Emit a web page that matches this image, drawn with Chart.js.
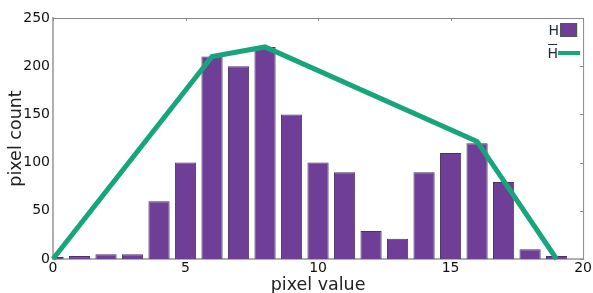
<!DOCTYPE html>
<html>
<head>
<meta charset="UTF-8">
<title>pixel histogram</title>
<script src="https://cdn.jsdelivr.net/npm/chart.js"></script>
<style>
    html, body { margin: 0; padding: 0; background: #ffffff; }
    #box { width: 593px; height: 293px; }
</style>
</head>
<body>
<div id="box"><canvas id="grafico"></canvas></div>
<script>
    // dados
    const pixelValues = [0, 1, 2, 3, 4, 5, 6, 7, 8, 9, 10, 11, 12, 13, 14, 15, 16, 17, 18, 19];
    const pixelCounts = [2, 3, 5, 5, 60, 100, 210, 200, 220, 150, 100, 90, 29, 21, 90, 110, 120, 80, 10, 3];
    const meanX = [0, 6, 8, 16, 19];
    const meanY = [0, 210, 220, 122, 0];
    const xTicks = [0, 5, 10, 15, 20];
    const yTicks = [0, 50, 100, 150, 200, 250];

    const roxo = '#6f3f98';
    const verde = '#17a57c';

    // moldura de cima e da direita, com marcas para dentro
    const moldura = {
        id: 'moldura',
        afterDatasetsDraw(chart) {
            const { ctx, chartArea: a, scales } = chart;
            ctx.save();
            ctx.strokeStyle = '#888888';
            ctx.lineWidth = 1;
            ctx.beginPath();
            ctx.moveTo(a.left, a.top + 0.5);
            ctx.lineTo(a.right + 0.5, a.top + 0.5);
            ctx.lineTo(a.right + 0.5, a.bottom);
            xTicks.forEach(v => {
                const px = Math.round(scales.x.getPixelForValue(v)) + 0.5;
                ctx.moveTo(px, a.top);
                ctx.lineTo(px, a.top + 3);
            });
            yTicks.forEach(v => {
                const py = Math.round(scales.y.getPixelForValue(v)) + 0.5;
                ctx.moveTo(a.right, py);
                ctx.lineTo(a.right - 3, py);
            });
            ctx.stroke();

            // legenda
            ctx.font = '14px "DejaVu Sans"';
            ctx.textAlign = 'right';
            ctx.textBaseline = 'middle';
            ctx.fillStyle = '#1d2a3a';
            ctx.fillText('H', a.right - 24, 31);
            ctx.fillText('H', a.right - 25, 54);
            // barra sobre o segundo H
            ctx.fillRect(a.right - 35, 44, 9, 1);
            ctx.fillStyle = roxo;
            ctx.fillRect(a.right - 23, 23, 17, 14);
            ctx.strokeStyle = '#555555';
            ctx.strokeRect(a.right - 22.5, 23.5, 16, 13);
            ctx.fillStyle = verde;
            ctx.fillRect(a.right - 25, 51, 22, 4);
            ctx.restore();
        }
    };

    const config = {
        data: {
            datasets: [
                {
                    type: 'line',
                    label: 'H\u0304',
                    data: meanX.map((x, i) => ({ x: x, y: meanY[i] })),
                    borderColor: verde,
                    borderWidth: 5,
                    pointRadius: 0,
                    fill: false,
                    tension: 0,
                    clip: false,
                    order: 0
                },
                {
                    type: 'bar',
                    label: 'H',
                    data: pixelValues.map((x, i) => ({ x: x, y: pixelCounts[i] })),
                    backgroundColor: roxo,
                    borderColor: '#4a3360',
                    borderWidth: 1,
                    categoryPercentage: 1,
                    barPercentage: 0.8,
                    order: 1
                }
            ]
        },
        options: {
            responsive: false,
            animation: false,
            maintainAspectRatio: false,
            layout: { padding: { top: 18, right: 9, left: 0, bottom: 0 } },
            plugins: {
                legend: { display: false },
                tooltip: { enabled: false }
            },
            scales: {
                x: {
                    type: 'linear',
                    min: 0,
                    max: 20,
                    offset: false,
                    grid: { display: false, drawTicks: false },
                    border: { color: '#b0b0b0', width: 2 },
                    afterBuildTicks(s) { s.ticks = xTicks.map(v => ({ value: v })); },
                    afterFit(s) { s.height = 34; },
                    ticks: {
                        color: '#111111',
                        font: { family: 'DejaVu Sans', size: 14 },
                        padding: 1,
                        maxRotation: 0
                    },
                    title: {
                        display: true,
                        text: 'pixel value',
                        color: '#222222',
                        font: { family: 'DejaVu Sans', size: 17.5 },
                        padding: { top: 0, bottom: -3 }
                    }
                },
                y: {
                    min: 0,
                    max: 250,
                    grid: { display: false, drawTicks: false },
                    border: { color: '#b0b0b0', width: 2 },
                    afterBuildTicks(s) { s.ticks = yTicks.map(v => ({ value: v })); },
                    afterFit(s) { s.width = 53; },
                    ticks: {
                        color: '#111111',
                        font: { family: 'DejaVu Sans', size: 14 },
                        padding: 3
                    },
                    title: {
                        display: true,
                        text: 'pixel count',
                        color: '#222222',
                        font: { family: 'DejaVu Sans', size: 17.5 },
                        padding: { top: 6, bottom: 0 }
                    }
                }
            }
        },
        plugins: [moldura]
    };

    const canvas = document.getElementById('grafico');
    canvas.width = 593;
    canvas.height = 293;
    new Chart(canvas, config);
</script>
</body>
</html>
